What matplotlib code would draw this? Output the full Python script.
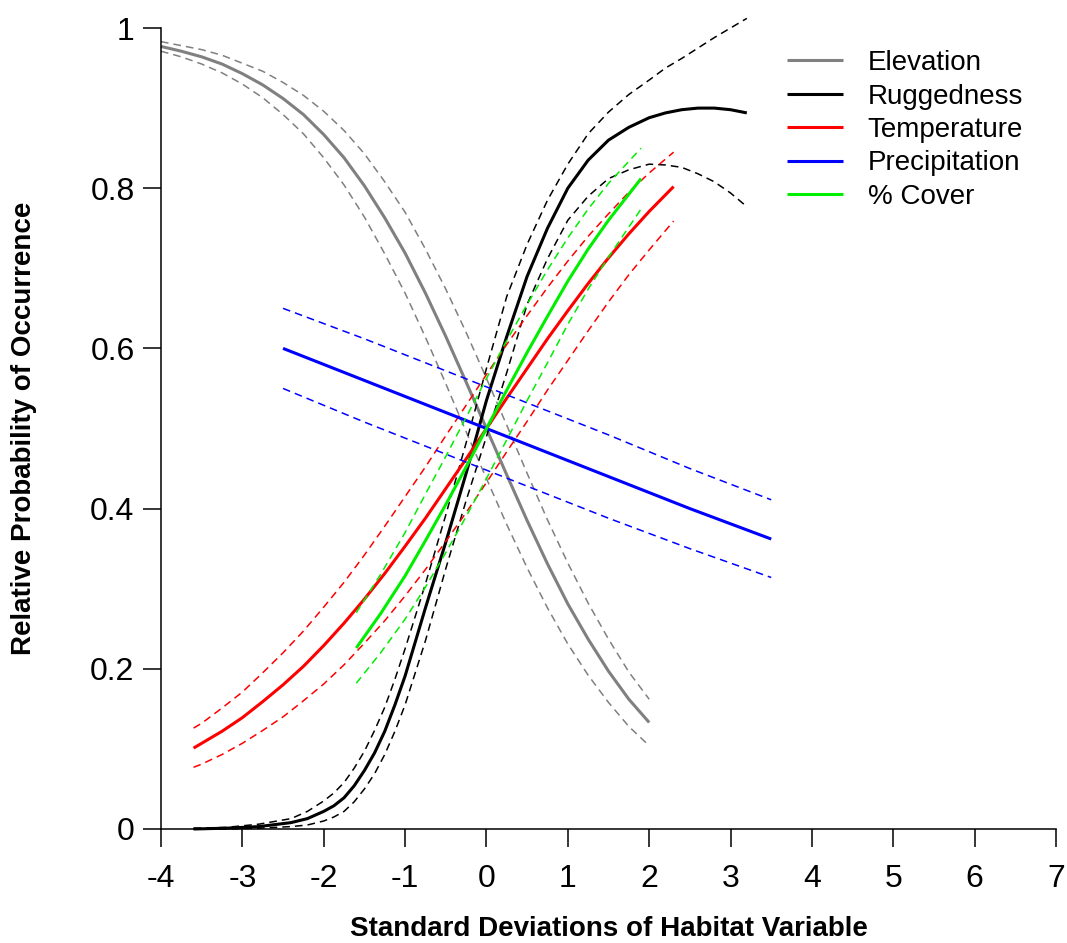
import matplotlib.pyplot as plt

plt.rcParams['font.family'] = ['Liberation Sans', 'DejaVu Sans']
plt.rcParams['axes.unicode_minus'] = False

# Elevation
elev_x = [-4, -3.75, -3.5, -3.25, -3, -2.75, -2.5, -2.25, -2, -1.75, -1.5, -1.25, -1,
          -0.75, -0.5, -0.25, 0, 0.25, 0.5, 0.75, 1, 1.25, 1.5, 1.75, 2]
elev_y = [0.977, 0.971, 0.964, 0.955, 0.943, 0.929, 0.912, 0.892, 0.867, 0.838, 0.803, 0.763, 0.719,
          0.669, 0.615, 0.558, 0.500, 0.442, 0.385, 0.331, 0.281, 0.237, 0.197, 0.162, 0.133]
elev_hi = [0.983, 0.978, 0.973, 0.966, 0.956, 0.946, 0.932, 0.916, 0.896, 0.872, 0.843, 0.808, 0.770,
           0.724, 0.674, 0.620, 0.5625, 0.504, 0.444, 0.386, 0.332, 0.282, 0.237, 0.196, 0.162]
elev_lo = [0.971, 0.964, 0.955, 0.944, 0.930, 0.913, 0.892, 0.868, 0.838, 0.804, 0.764, 0.718, 0.669,
           0.614, 0.556, 0.496, 0.4375, 0.380, 0.326, 0.276, 0.231, 0.192, 0.158, 0.128, 0.104]

# Ruggedness
rug_x = [-3.6, -3.2, -2.8, -2.4, -2.2, -2.0, -1.875, -1.75, -1.625, -1.5, -1.375, -1.25, -1.125,
         -1.0, -0.75, -0.5, -0.25, 0, 0.25, 0.5, 0.75, 1.0, 1.25, 1.5, 1.75, 2.0, 2.2, 2.4, 2.6,
         2.8, 3.0, 3.2]
rug_y = [0.000, 0.001, 0.003, 0.008, 0.013, 0.022, 0.029, 0.039, 0.054, 0.073, 0.095, 0.122, 0.155,
         0.191, 0.276, 0.358, 0.444, 0.535, 0.615, 0.690, 0.750, 0.800, 0.835, 0.860, 0.876, 0.888,
         0.894, 0.898, 0.900, 0.900, 0.898, 0.894]
rug_hi = [0.001, 0.002, 0.006, 0.013, 0.022, 0.035, 0.045, 0.058, 0.076, 0.097, 0.123, 0.152, 0.187,
          0.225, 0.306, 0.392, 0.482, 0.575, 0.665, 0.730, 0.785, 0.830, 0.868, 0.895, 0.917, 0.935,
          0.950, 0.962, 0.975, 0.988, 1.000, 1.012]
rug_lo = [0.000, 0.000, 0.001, 0.003, 0.005, 0.010, 0.015, 0.022, 0.034, 0.050, 0.069, 0.093, 0.122,
          0.155, 0.235, 0.325, 0.410, 0.490, 0.570, 0.655, 0.712, 0.760, 0.790, 0.812, 0.823, 0.830,
          0.829, 0.826, 0.818, 0.808, 0.794, 0.777]

# Temperature
temp_x = [-3.6, -3.5, -3.25, -3, -2.75, -2.5, -2.25, -2, -1.75, -1.5, -1.25, -1, -0.75, -0.5, -0.25,
          0, 0.25, 0.5, 0.75, 1, 1.25, 1.5, 1.75, 2, 2.3]
temp_y = [0.101, 0.107, 0.122, 0.139, 0.159, 0.180, 0.203, 0.229, 0.257, 0.287, 0.319, 0.353, 0.388,
          0.425, 0.462, 0.500, 0.538, 0.575, 0.612, 0.647, 0.681, 0.713, 0.743, 0.771, 0.802]
temp_hi = [0.126, 0.132, 0.151, 0.171, 0.195, 0.220, 0.247, 0.277, 0.308, 0.342, 0.378, 0.415, 0.452,
           0.491, 0.529, 0.5675, 0.605, 0.641, 0.676, 0.709, 0.740, 0.768, 0.795, 0.819, 0.845]
temp_lo = [0.077, 0.081, 0.093, 0.107, 0.123, 0.140, 0.160, 0.181, 0.205, 0.232, 0.260, 0.291, 0.324,
           0.359, 0.395, 0.4325, 0.471, 0.509, 0.548, 0.585, 0.622, 0.658, 0.692, 0.723, 0.759]

# Precipitation
prec_x = [-2.5, -1.5, -0.5, 0.5, 1.5, 2.5, 3.5]
prec_y = [0.600, 0.560, 0.520, 0.480, 0.440, 0.400, 0.362]
prec_hi = [0.650, 0.612, 0.572, 0.532, 0.492, 0.450, 0.411]
prec_lo = [0.550, 0.508, 0.468, 0.428, 0.388, 0.350, 0.314]

# % Cover
cov_x = [-1.6, -1.3, -1, -0.75, -0.5, -0.25, 0, 0.25, 0.5, 0.75, 1, 1.25, 1.5, 1.9]
cov_y = [0.226, 0.269, 0.316, 0.360, 0.405, 0.452, 0.500, 0.548, 0.595, 0.640, 0.684, 0.724, 0.760, 0.812]
cov_hi = [0.270, 0.318, 0.370, 0.418, 0.465, 0.514, 0.5625, 0.610, 0.655, 0.698, 0.738, 0.774, 0.806, 0.850]
cov_lo = [0.182, 0.220, 0.262, 0.302, 0.345, 0.390, 0.4375, 0.486, 0.535, 0.582, 0.630, 0.674, 0.714, 0.774]

series = [
    ('Elevation', 'grey', elev_x, elev_y, elev_hi, elev_lo),
    ('Ruggedness', 'black', rug_x, rug_y, rug_hi, rug_lo),
    ('Temperature', 'red', temp_x, temp_y, temp_hi, temp_lo),
    ('Precipitation', 'blue', prec_x, prec_y, prec_hi, prec_lo),
    ('% Cover', '#00ee00', cov_x, cov_y, cov_hi, cov_lo),
]

fig = plt.figure(figsize=(10.67, 9.43), dpi=100)
ax = fig.add_axes([161/1067, 1 - 829/943, 895/1067, 801/943])

dash = (0, (5, 3.3))
for name, col, x, y, hi, lo in series:
    ax.plot(x, hi, color=col, lw=1.1, linestyle=dash, clip_on=False)
    ax.plot(x, lo, color=col, lw=1.1, linestyle=dash, clip_on=False)
    ax.plot(x, y, color=col, lw=2.2, label=name, clip_on=False, solid_capstyle='butt')

ax.set_xlim(-4, 7)
ax.set_ylim(0, 1)
ax.set_xticks(range(-4, 8))
ax.set_yticks([0, 0.2, 0.4, 0.6, 0.8, 1])
ax.set_yticklabels(['0', '0.2', '0.4', '0.6', '0.8', '1'])
for s in ['top', 'right']:
    ax.spines[s].set_visible(False)
for s in ['left', 'bottom']:
    ax.spines[s].set_linewidth(1.1)
ax.tick_params(direction='out', length=13, width=1.1, labelsize=23, pad=6)
ax.tick_params(axis='x', pad=12)

ax.set_xlabel('Standard Deviations of Habitat Variable', fontsize=20, fontweight='bold', va='center')
ax.set_ylabel('Relative Probability of Occurrence', fontsize=20, fontweight='bold', va='center')
ax.xaxis.set_label_coords(0.5, (829 - 929) / 801)
ax.yaxis.set_label_coords((24 - 161) / 895, (829 - 428) / 801)

ax.legend(loc='upper left', bbox_to_anchor=(787/1067, 1 - 50/943), bbox_transform=fig.transFigure,
          frameon=False, fontsize=20, handlelength=2.0, handletextpad=0.9,
          labelspacing=0.27, borderpad=0, borderaxespad=0)

plt.savefig('out.png', dpi=100)
